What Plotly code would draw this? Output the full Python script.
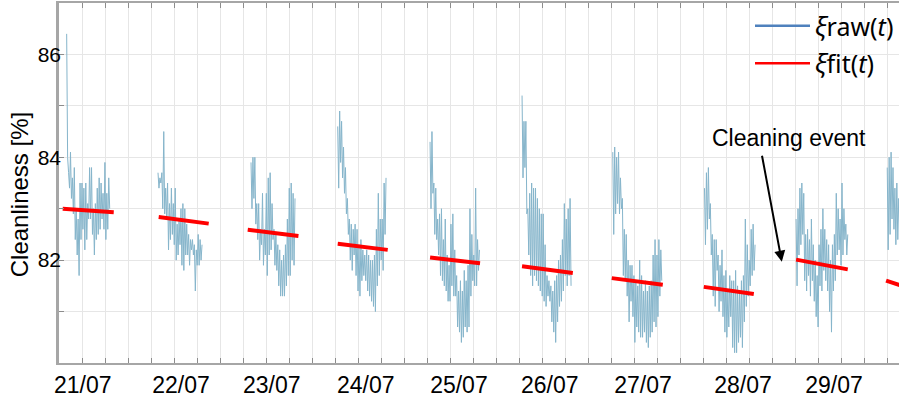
import numpy as np
import pandas as pd
import plotly.graph_objects as go

# ---- data -------------------------------------------------------------
days = ["2021-07-21", "2021-07-22", "2021-07-23", "2021-07-24", "2021-07-25",
        "2021-07-26", "2021-07-27", "2021-07-28", "2021-07-29", "2021-07-30"]

# first / last sample of each daily measurement window (hour of day)
raw_start_h = [8.00, 7.82, 8.08, 6.69, 6.77, 6.76, 6.42, 6.34, 6.23, 6.00]
raw_end_h = [19.22, 19.30, 19.55, 19.29, 19.65, 19.54, 19.20, 19.53, 19.70, 9.25]

raw_0721 = [86.4, 84.0, 83.7, 83.4, 84.1, 83.2, 83.6, 82.9, 83.8, 82.4,
            83.0, 82.1, 82.8, 81.7, 83.5, 82.4, 83.5, 82.6, 83.4, 82.2,
            83.5, 82.4, 83.1, 82.8, 83.8, 82.8, 83.8, 82.5, 83.0, 82.1,
            83.1, 82.4, 83.4, 82.5, 83.6, 82.6, 83.5, 82.8, 83.3, 82.6,
            83.9, 82.4, 83.3, 82.6, 83.6, 83.0]
raw_0722 = [83.7, 83.4, 83.6, 83.5, 83.7, 83.0, 84.5, 82.9, 83.4, 82.8,
            83.5, 82.2, 83.1, 82.4, 83.4, 82.5, 83.1, 82.3, 83.4, 82.0,
            82.7, 82.1, 82.8, 82.3, 83.0, 81.9, 83.1, 81.8, 83.0, 82.1,
            82.7, 82.1, 82.5, 81.9, 82.4, 82.2, 82.4, 82.1, 82.3, 81.4,
            82.2, 81.9, 82.5, 81.9, 82.4, 82.0, 82.3]
raw_0723 = [83.9, 83.0, 84.0, 83.2, 84.0, 82.7, 83.1, 82.4, 83.1, 82.0,
            82.6, 82.3, 83.3, 81.9, 82.6, 82.1, 83.3, 81.7, 83.6, 82.1,
            83.7, 82.2, 83.1, 82.4, 82.6, 81.9, 82.5, 81.8, 82.3, 81.5,
            82.2, 81.3, 82.0, 81.3, 82.1, 81.3, 82.3, 81.5, 82.8, 81.7,
            83.4, 81.7, 83.5, 82.0, 83.3, 81.9, 83.2]
raw_0724 = [84.6, 83.4, 84.9, 83.9, 84.7, 83.6, 84.2, 83.3, 83.8, 82.9,
            83.2, 82.5, 82.8, 82.0, 82.7, 81.8, 82.6, 82.1, 82.7, 81.7,
            82.6, 81.4, 82.3, 81.3, 82.4, 81.6, 82.2, 81.7, 82.1, 81.6,
            82.2, 81.4, 82.1, 81.3, 82.0, 81.2, 82.0, 81.1, 82.1, 81.0,
            82.6, 81.5, 83.3, 81.7, 82.8, 82.0, 82.8, 81.8, 83.5, 82.5,
            83.6]
raw_0725 = [84.3, 83.0, 84.5, 83.3, 83.5, 82.5, 83.4, 82.4, 82.8, 82.1,
            82.9, 81.7, 83.0, 81.6, 82.4, 81.5, 82.8, 81.4, 82.1, 81.2,
            81.9, 81.2, 82.7, 81.5, 82.9, 81.3, 82.2, 81.3, 81.7, 80.7,
            81.4, 80.6, 81.6, 80.4, 81.4, 80.5, 81.8, 80.7, 81.6, 80.6,
            81.9, 80.7, 83.0, 81.3, 82.5, 81.6, 82.1, 81.5, 83.4, 81.5,
            82.4, 81.8, 82.2]
raw_0726 = [85.2, 83.6, 84.7, 83.8, 84.7, 82.9, 83.0, 82.1, 83.3, 81.7,
            83.5, 81.5, 83.4, 81.7, 83.4, 81.6, 83.2, 81.5, 83.0, 81.4,
            82.9, 81.3, 82.9, 81.2, 82.3, 81.1, 81.7, 81.3, 81.6, 81.2,
            81.5, 80.8, 81.4, 80.6, 81.6, 80.4, 81.7, 80.8, 82.0, 81.1,
            82.1, 81.2, 82.4, 81.4, 83.1, 81.7, 82.8, 81.5, 83.0, 81.7,
            83.2, 81.5]
raw_0727 = [84.1, 82.5, 84.2, 82.9, 84.0, 83.1, 84.1, 82.9, 83.6, 83.0,
            83.2, 81.7, 82.6, 81.6, 82.5, 81.3, 82.0, 80.8, 81.9, 81.2,
            81.9, 80.9, 81.7, 80.4, 81.6, 80.7, 81.5, 80.6, 82.0, 80.5,
            81.7, 80.5, 81.4, 80.6, 81.6, 80.4, 81.4, 80.3, 81.5, 80.5,
            81.6, 80.6, 82.1, 80.8, 82.4, 80.7, 82.1, 80.9, 82.4, 81.3,
            82.2, 81.6]
raw_0728 = [83.4, 82.3, 83.7, 82.6, 83.8, 82.8, 83.1, 82.1, 82.5, 81.3,
            82.4, 81.1, 82.4, 81.8, 82.1, 81.0, 81.9, 81.2, 82.2, 80.9,
            81.7, 80.6, 81.8, 80.5, 81.4, 80.7, 81.7, 80.9, 81.6, 80.3,
            81.6, 80.2, 81.8, 80.2, 81.5, 80.4, 81.4, 80.5, 81.6, 80.3,
            81.7, 80.8, 82.8, 81.1, 82.3, 81.3, 82.0, 81.5, 82.6, 81.7,
            82.7, 81.8, 82.3]
raw_0729 = [82.8, 81.5, 83.0, 82.1, 83.4, 82.3, 83.5, 82.5, 83.3, 81.6,
            82.5, 81.4, 82.6, 81.7, 82.4, 81.3, 82.8, 81.6, 82.3, 81.2,
            82.0, 80.9, 81.7, 80.7, 82.3, 81.5, 82.6, 81.4, 83.0, 81.8,
            82.6, 81.6, 82.4, 81.4, 82.3, 81.0, 82.0, 80.6, 82.3, 81.4,
            82.5, 81.6, 83.3, 82.1, 83.0, 82.2, 82.8, 81.9, 83.5, 82.1,
            83.0, 82.4, 82.7, 82.1, 82.5]
raw_0730 = [83.8, 82.2, 84.0, 82.5, 84.1, 82.8, 83.8, 82.6, 83.4, 82.3,
            83.5, 82.4, 83.2, 82.6]
raw_days = [raw_0721, raw_0722, raw_0723, raw_0724, raw_0725,
            raw_0726, raw_0727, raw_0728, raw_0729, raw_0730]

# daily linear fit: window (hour of day) and end values
fit_start_h = [6.97, 8.00, 7.22, 6.69, 6.77, 6.76, 6.16, 6.16, 6.23, 5.70]
fit_end_h = [20.27, 21.04, 20.44, 19.73, 19.80, 20.00, 19.46, 19.20, 19.70, 18.80]
fit_start_val = [83.00, 82.84, 82.59, 82.32, 82.05, 81.88, 81.65, 81.48, 82.01, 81.60]
fit_end_val = [82.93, 82.71, 82.47, 82.20, 81.94, 81.75, 81.52, 81.34, 81.82, 81.28]

# date labels on the time axis
tick_times = ["2021-07-21 12:12", "2021-07-22 13:48", "2021-07-23 13:30",
              "2021-07-24 14:00", "2021-07-25 14:18", "2021-07-26 14:00",
              "2021-07-27 14:18", "2021-07-28 16:24", "2021-07-29 16:06"]
tick_labels = ["21/07", "22/07", "23/07", "24/07", "25/07",
               "26/07", "27/07", "28/07", "29/07"]

# ---- build traces -----------------------------------------------------
raw_x, raw_y = [], []
for day, h0, h1, vals in zip(days, raw_start_h, raw_end_h, raw_days):
    hours = np.linspace(h0, h1, len(vals))
    raw_x += list(pd.Timestamp(day) + pd.to_timedelta(hours, unit="h")) + [None]
    raw_y += list(vals) + [None]

fit_x, fit_y = [], []
for day, h0, h1, v0, v1 in zip(days, fit_start_h, fit_end_h, fit_start_val, fit_end_val):
    t0 = pd.Timestamp(day) + pd.Timedelta(hours=h0)
    t1 = pd.Timestamp(day) + pd.Timedelta(hours=h1)
    fit_x += [t0, t1, None]
    fit_y += [v0, v1, None]

fig = go.Figure()
fig.add_trace(go.Scatter(x=raw_x, y=raw_y, mode="lines", showlegend=False,
                         line=dict(color="#86b5cb", width=1)))
fig.add_trace(go.Scatter(x=fit_x, y=fit_y, mode="lines", showlegend=False,
                         line=dict(color="#ff0000", width=4)))
# legend keys
fig.add_trace(go.Scatter(x=[None], y=[None], mode="lines",
                         name="<i>ξ</i>raw(<i>t</i>)", legendgroup="a",
                         line=dict(color="#4f81bd", width=2.5)))
fig.add_trace(go.Scatter(x=[None], y=[None], mode="lines",
                         name="<i>ξ</i>fit(<i>t</i>)", legendgroup="b",
                         line=dict(color="#ff0000", width=2.5)))

axis_font = "Liberation Sans, Arial, sans-serif"
six_hours = 6 * 3600 * 1000

fig.update_layout(
    width=899, height=401,
    margin=dict(l=59, r=0, t=3, b=38),
    paper_bgcolor="white", plot_bgcolor="white",
    font=dict(family=axis_font, color="black"),
    legend=dict(x=1.0, xanchor="right", y=1.0, yanchor="top",
                bgcolor="rgba(0,0,0,0)", font=dict(family="Noto Sans", size=25),
                itemwidth=55, tracegroupgap=2),
    annotations=[
        dict(text="Cleanliness [%]", textangle=-90, showarrow=False,
             xref="paper", yref="paper", x=-0.046, y=0.467,
             xanchor="center", yanchor="middle", font=dict(size=24)),
        dict(text="", x="2021-07-29 02:30", y=81.97,
             ax="2021-07-28 21:16", ay=84.06, axref="x", ayref="y",
             showarrow=True, arrowhead=2, arrowsize=1.1, arrowwidth=2,
             arrowcolor="black"),
        dict(text="Cleaning event", x="2021-07-29 04:30", y=84.38,
             showarrow=False, font=dict(size=23)),
    ],
)

fig.update_xaxes(
    type="date",
    range=["2021-07-21 06:00", "2021-07-30 09:04"],
    tickmode="array", tickvals=tick_times, ticktext=tick_labels,
    tickfont=dict(size=23), ticks="inside", ticklen=0,
    showgrid=False, zeroline=False,
    showline=True, linecolor="#a6a6a6", linewidth=2, mirror="allticks",
    minor=dict(dtick=six_hours, tick0="2021-07-21 00:00", showgrid=True,
               gridcolor="#e6e6e6", gridwidth=1, ticks="inside", ticklen=5,
               tickcolor="#8c8c8c"),
)
fig.update_yaxes(
    range=[80, 87],
    tickmode="array", tickvals=[82, 84, 86], ticktext=["82", "84", "86"],
    tickfont=dict(size=21), ticks="inside", ticklen=5, tickcolor="#8c8c8c",
    ticklabelstandoff=-9,
    showgrid=True, gridcolor="#e6e6e6", zeroline=False,
    showline=True, linecolor="#a6a6a6", linewidth=2.5,
    minor=dict(dtick=1, showgrid=True, gridcolor="#e6e6e6",
               ticks="inside", ticklen=5, tickcolor="#8c8c8c"),
)

fig.write_html("out.html")
